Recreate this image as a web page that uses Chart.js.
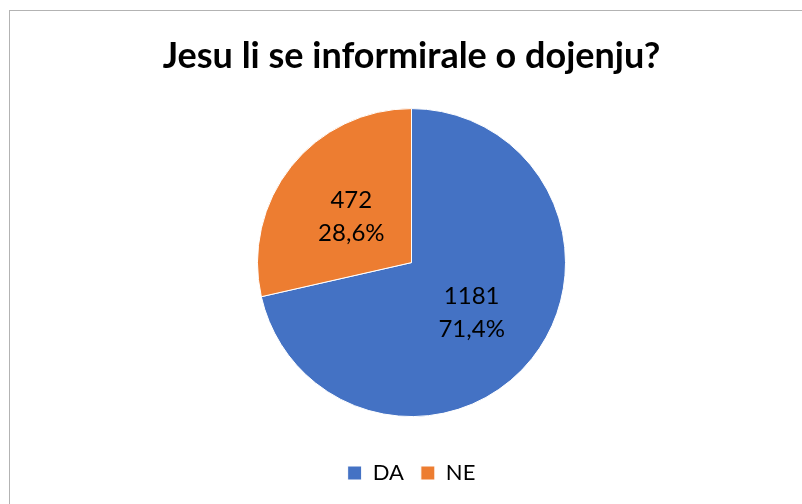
<!DOCTYPE html>
<html>
<head>
<meta charset="utf-8">
<script src="https://cdn.jsdelivr.net/npm/chart.js@4"></script>
<style>
  body { margin: 0; background: #fff; }
  #wrap { position: relative; width: 802px; height: 504px; }
  #frame { position: absolute; left: 9px; top: 10px; right: 0; bottom: 0;
           border-left: 1px solid #b3b3b3; border-top: 1px solid #b3b3b3; pointer-events: none; }
</style>
</head>
<body>
<div id="wrap">
  <canvas id="pie-chart" width="802" height="504"></canvas>
  <div id="frame"></div>
</div>
<script>
let categories = ["DA", "NE"]
let answers = [1181, 472]
let sliceColors = ["#4472C4", "#ED7D31"]
let chartTitle = "Jesu li se informirale o dojenju?"

// labels inside the slices: count on one line, percent under it
let sliceLabels = {
  id: "sliceLabels",
  afterDatasetsDraw(chart) {
    let ctx = chart.ctx
    let meta = chart.getDatasetMeta(0)
    let total = answers.reduce((a, b) => a + b, 0)
    ctx.save()
    ctx.font = "24px Lato"
    ctx.fillStyle = "#000000"
    ctx.textAlign = "center"
    ctx.textBaseline = "middle"
    meta.data.forEach((arc, i) => {
      let p = arc.getProps(["x", "y", "startAngle", "endAngle", "outerRadius"], true)
      let mid = (p.startAngle + p.endAngle) / 2
      let r = p.outerRadius * 0.5
      let x = p.x + Math.cos(mid) * r
      let y = p.y + Math.sin(mid) * r
      let pct = (answers[i] / total * 100).toFixed(1).replace(".", ",") + "%"
      ctx.fillText(String(answers[i]), x, y - 14)
      ctx.fillText(pct, x, y + 19)
    })
    ctx.restore()
  }
}

let pieGraph = document.getElementById("pie-chart").getContext("2d")

const pieChart = new Chart(pieGraph, {
  type: "pie",
  data: {
    labels: categories,
    datasets: [{
      data: answers,
      backgroundColor: sliceColors,
      borderColor: "#ffffff",
      borderWidth: 1,
      radius: 154
    }]
  },
  options: {
    responsive: false,
    animation: false,
    layout: { padding: { left: 21, bottom: 10 } },
    plugins: {
      title: {
        display: true,
        text: chartTitle,
        color: "#000000",
        font: { family: "Lato", size: 36, weight: "bold" },
        padding: { top: 35, bottom: 2 }
      },
      legend: {
        position: "bottom",
        labels: {
          boxWidth: 14,
          boxHeight: 14,
          padding: 17,
          color: "#000000",
          font: { family: "Lato", size: 22 }
        }
      },
      tooltip: { enabled: false }
    }
  },
  plugins: [sliceLabels]
})
</script>
</body>
</html>
